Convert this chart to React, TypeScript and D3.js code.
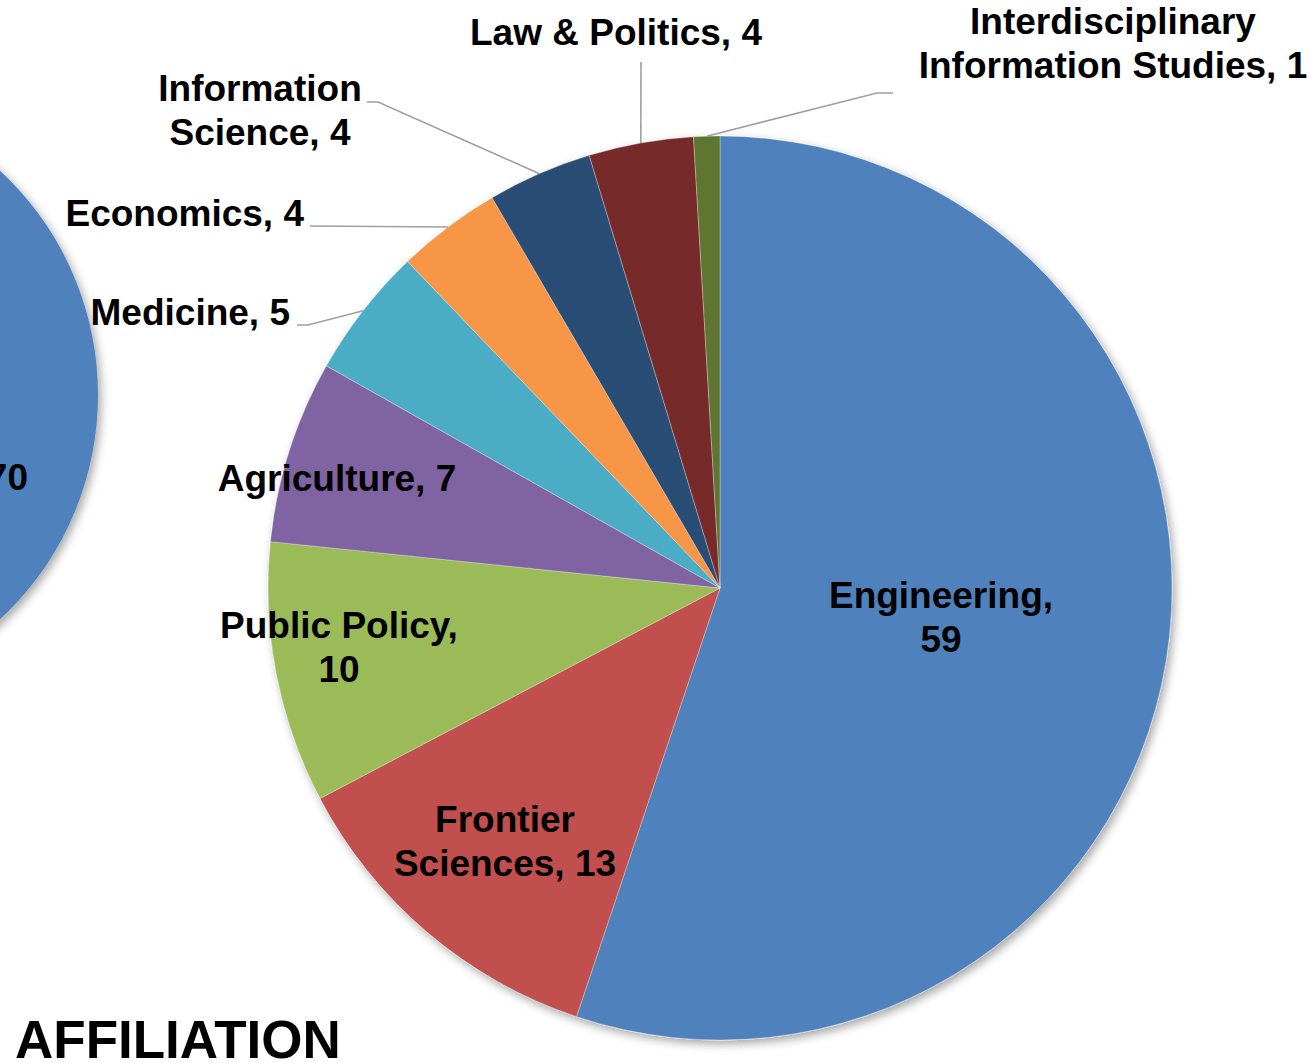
import { arc, pie } from 'd3';
import type { PieArcDatum } from 'd3';

// affiliation counts, clockwise from 12 o'clock
const categories = [
  'Engineering',
  'Frontier Sciences',
  'Public Policy',
  'Agriculture',
  'Medicine',
  'Economics',
  'Information Science',
  'Law & Politics',
  'Interdisciplinary Information Studies',
];
const values = [59, 13, 10, 7, 5, 4, 4, 4, 1];
const colors = ['#4F81BD', '#C0504D', '#9BBB59', '#8064A2', '#4BACC6', '#F79646', '#2C4D75', '#772C2A', '#5F7530'];

// neighbouring chart, only its edge is visible
const leftValues = [70];

const title = 'AFFILIATION';

type Slice = { name: string; value: number; color: string };
type LabelPos = { x: number; y: number; anchor: string; wrap?: number; leader?: [number, number][] };

// where Excel placed each label (manual label positions)
const labelLayout: Record<string, LabelPos> = {
  'Engineering': { x: 941, y: 608, anchor: 'middle', wrap: 1 },
  'Frontier Sciences': { x: 505, y: 832, anchor: 'middle', wrap: 1 },
  'Public Policy': { x: 339, y: 638, anchor: 'middle', wrap: 2 },
  'Agriculture': { x: 337, y: 491, anchor: 'middle' },
  'Medicine': { x: 290, y: 325, anchor: 'end', leader: [[308, 325], [297, 325]] },
  'Economics': { x: 304, y: 226, anchor: 'end', leader: [[310, 226]] },
  'Information Science': { x: 260, y: 101, anchor: 'middle', wrap: 1, leader: [[378, 102], [367, 102]] },
  'Law & Politics': { x: 616, y: 45, anchor: 'middle', leader: [[641, 62]] },
  'Interdisciplinary Information Studies': { x: 1113, y: 34, anchor: 'middle', wrap: 1, leader: [[877, 93], [893, 93]] },
};

const W = 1316;
const H = 1063;
const cx = 720;
const cy = 588;
const R = 452;
const lineHeight = 44;
const font = '"Liberation Sans", Arial, sans-serif';

export default function App() {
  const slices: Slice[] = categories.map((name, i) => ({ name, value: values[i], color: colors[i] }));
  const arcs = pie<Slice>().sort(null).value((d) => d.value)(slices);
  const arcGen = arc<PieArcDatum<Slice>>().innerRadius(0).outerRadius(R);

  const leftArcs = pie<number>().sort(null)(leftValues);
  const leftArc = arc<PieArcDatum<number>>().innerRadius(0).outerRadius(306);

  const edgePoint = (a: PieArcDatum<Slice>): [number, number] => {
    const m = (a.startAngle + a.endAngle) / 2;
    return [cx + Math.sin(m) * R, cy - Math.cos(m) * R];
  };

  return (
    <svg width={W} height={H} style={{ position: 'absolute', left: 0, top: 0, background: '#fff' }}>
      <defs>
        <filter id="shadow" x="-10%" y="-10%" width="120%" height="120%">
          <feDropShadow dx="3" dy="4" stdDeviation="5" floodColor="#000" floodOpacity="0.35" />
        </filter>
      </defs>

      <g transform="translate(-208,395)" filter="url(#shadow)">
        {leftArcs.map((a, i) => (
          <path key={i} d={leftArc(a) || ''} fill="#4F81BD" />
        ))}
      </g>
      <text x={28} y={490} textAnchor="end" fontFamily={font} fontWeight="bold" fontSize={37}>
        {leftValues[0]}
      </text>

      <g transform={`translate(${cx},${cy})`} filter="url(#shadow)">
        {arcs.map((a) => (
          <path key={a.data.name} d={arcGen(a) || ''} fill={a.data.color} stroke="#fff" strokeWidth={0.6} strokeOpacity={0.5} />
        ))}
      </g>

      {arcs.map((a) => {
        const lay = labelLayout[a.data.name];
        if (!lay.leader) return null;
        const pts = [edgePoint(a), ...lay.leader];
        return (
          <polyline
            key={'l' + a.data.name}
            points={pts.map((p) => p.join(',')).join(' ')}
            fill="none"
            stroke="#A0A0A0"
            strokeWidth={1.6}
          />
        );
      })}

      {arcs.map((a) => {
        const lay = labelLayout[a.data.name];
        const words = `${a.data.name}, ${a.data.value}`.split(' ');
        const lines = lay.wrap ? [words.slice(0, lay.wrap).join(' '), words.slice(lay.wrap).join(' ')] : [words.join(' ')];
        return (
          <text
            key={'t' + a.data.name}
            x={lay.x}
            y={lay.y}
            textAnchor={lay.anchor}
            fontFamily={font}
            fontWeight="bold"
            fontSize={37}
            fill="#000"
          >
            {lines.map((ln, i) => (
              <tspan key={i} x={lay.x} dy={i === 0 ? 0 : lineHeight}>
                {ln}
              </tspan>
            ))}
          </text>
        );
      })}

      <text x={15} y={1058} fontFamily={font} fontWeight="bold" fontSize={53} fill="#000">
        {title}
      </text>
    </svg>
  );
}
